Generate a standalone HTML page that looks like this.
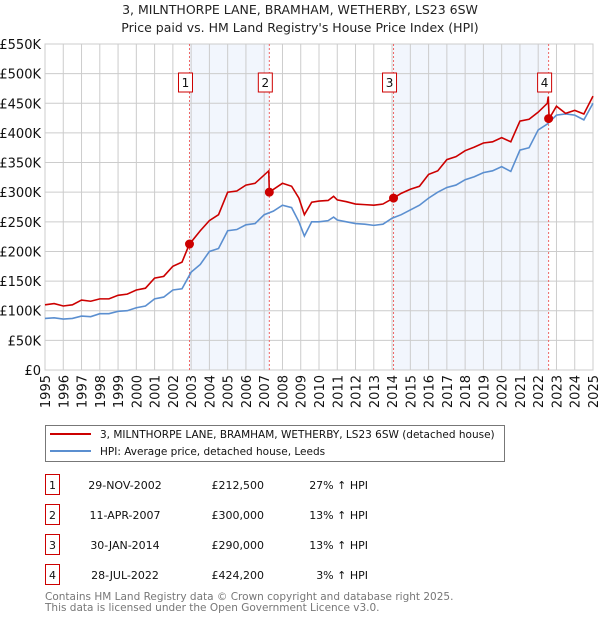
<!DOCTYPE html>
<html><head><meta charset="utf-8"><style>
body{margin:0;background:#fff;font-family:"Liberation Sans","DejaVu Sans",sans-serif;}
svg text{font-family:"DejaVu Sans","Liberation Sans",sans-serif;}
</style></head><body>
<svg id="c" width="600" height="620" xmlns="http://www.w3.org/2000/svg">
<text x="300" y="14" text-anchor="middle" font-size="12.5" fill="#222">3, MILNTHORPE LANE, BRAMHAM, WETHERBY, LS23 6SW</text>
<text x="300" y="32" text-anchor="middle" font-size="12.5" fill="#222">Price paid vs. HM Land Registry's House Price Index (HPI)</text>
<g id="plot"></g>
<g>
<rect x="45.5" y="425.5" width="459" height="36" fill="#fff" stroke="#777"/>
<line x1="50" y1="434" x2="91" y2="434" stroke="#cc0000" stroke-width="2"/>
<text x="100" y="438" font-size="10.5" fill="#111">3, MILNTHORPE LANE, BRAMHAM, WETHERBY, LS23 6SW (detached house)</text>
<line x1="50" y1="451" x2="91" y2="451" stroke="#5b8fd0" stroke-width="2"/>
<text x="100" y="455" font-size="10.5" fill="#111">HPI: Average price, detached house, Leeds</text>
</g>
<g id="table"></g>
<text x="45" y="600" font-size="10.5" fill="#777">Contains HM Land Registry data © Crown copyright and database right 2025.</text>
<text x="45" y="611" font-size="10.5" fill="#777">This data is licensed under the Open Government Licence v3.0.</text>
</svg>
<script>
const hpiYears=[1995,1995.5,1996,1996.5,1997,1997.5,1998,1998.5,1999,1999.5,2000,2000.5,2001,2001.5,2002,2002.5,2003,2003.5,2004,2004.5,2005,2005.5,2006,2006.5,2007,2007.5,2008,2008.5,2008.9,2009.2,2009.6,2010,2010.5,2010.8,2011,2011.5,2012,2012.5,2013,2013.5,2014,2014.5,2015,2015.5,2016,2016.5,2017,2017.5,2018,2018.5,2019,2019.5,2020,2020.5,2021,2021.5,2022,2022.5,2023,2023.5,2024,2024.5,2025];
const hpiValues=[87,88,86,87,91,90,95,95,99,100,105,108,120,123,135,137,165,178,200,205,235,237,245,247,262,268,278,274,250,226,250,250,252,258,253,250,247,246,244,246,256,262,270,278,290,300,308,312,321,326,333,336,343,335,371,375,405,415,430,432,430,422,450];
const redYears=[1995,1995.5,1996,1996.5,1997,1997.5,1998,1998.5,1999,1999.5,2000,2000.5,2001,2001.5,2002,2002.5,2002.9,2003.5,2004,2004.5,2005,2005.5,2006,2006.5,2007.25,2007.28,2008,2008.5,2008.9,2009.2,2009.6,2010,2010.5,2010.8,2011,2011.5,2012,2012.5,2013,2013.5,2014.08,2014.5,2015,2015.5,2016,2016.5,2017,2017.5,2018,2018.5,2019,2019.5,2020,2020.5,2021,2021.5,2022,2022.5,2022.55,2022.6,2023,2023.5,2024,2024.5,2025];
const redValues=[110,112,108,110,118,116,120,120,126,128,135,138,155,158,175,182,212,235,252,262,300,302,312,315,336,300,315,310,290,262,283,285,286,293,287,284,280,279,278,280,290,298,305,310,330,336,355,360,370,376,383,385,392,385,420,423,435,450,461,424,445,433,438,432,462];
const saleYears=[2002.91,2007.28,2014.08,2022.57];
const salePrices=[212.5,300,290,424.2];
const saleDates=["29-NOV-2002","11-APR-2007","30-JAN-2014","28-JUL-2022"];
const salePriceLabels=["£212,500","£300,000","£290,000","£424,200"];
const saleHpiLabels=["27% ↑ HPI","13% ↑ HPI","13% ↑ HPI","3% ↑ HPI"];
const yTicks=[0,50,100,150,200,250,300,350,400,450,500,550];
const yTickLabels=["£0","£50K","£100K","£150K","£200K","£250K","£300K","£350K","£400K","£450K","£500K","£550K"];
const xTicks=[1995,1996,1997,1998,1999,2000,2001,2002,2003,2004,2005,2006,2007,2008,2009,2010,2011,2012,2013,2014,2015,2016,2017,2018,2019,2020,2021,2022,2023,2024,2025];

const X0=45,X1=593,Y0=370,Y1=44;
const x=v=>X0+(v-1995)/30*(X1-X0);
const y=v=>Y0-v/550*(Y0-Y1);
const NS="http://www.w3.org/2000/svg";
const plot=document.getElementById('plot');
function mk(tag,attrs,parent){const e=document.createElementNS(NS,tag);for(const k in attrs)e.setAttribute(k,attrs[k]);(parent||plot).appendChild(e);return e;}

for(let i=0;i<saleYears.length;i+=2){
 const r=mk('rect',{x:x(saleYears[i]),y:Y1,width:x(saleYears[i+1])-x(saleYears[i]),height:Y0-Y1,fill:'#f2f6fd'});
 
 
}
yTicks.forEach((t,i)=>{
 const l=mk('line',{x1:X0,x2:X1,y1:y(t),y2:y(t),stroke:'#ccc','stroke-width':1});
 
 
 const tx=mk('text',{x:X0-4,y:y(t)+5,'text-anchor':'end','font-size':13,fill:'#111'});
 tx.textContent=yTickLabels[i];
 
 
});
xTicks.forEach(t=>{
 const l=mk('line',{x1:x(t),x2:x(t),y1:Y1,y2:Y0,stroke:'#ccc','stroke-width':1});
 
 
 const tx=mk('text',{x:0,y:0,'text-anchor':'end','font-size':13,fill:'#111',transform:`translate(${x(t)+5},${Y0+5}) rotate(-90)`});
 tx.textContent=t;
 
 
});
mk('rect',{x:X0,y:Y1,width:X1-X0,height:Y0-Y1,fill:'none',stroke:'#ccc'});
saleYears.forEach((s,i)=>{
 const l=mk('line',{x1:x(s),x2:x(s),y1:Y1,y2:Y0,stroke:'#e66','stroke-width':1,'stroke-dasharray':'2,2'});
 
 
 const b=mk('rect',{x:x(s)-11,y:73,width:14,height:19,fill:'#fff',stroke:'#cc0000'});
 
 
 const t=mk('text',{x:x(s)-4,y:87,'text-anchor':'middle','font-size':12,fill:'#111'});
 t.textContent=i+1;
 
 
});
const hp=mk('polyline',{points:hpiYears.map((v,i)=>x(v)+','+y(hpiValues[i])).join(' '),fill:'none',stroke:'#5b8fd0','stroke-width':1.6});


const rp=mk('polyline',{points:redYears.map((v,i)=>x(v)+','+y(redValues[i])).join(' '),fill:'none',stroke:'#cc0000','stroke-width':1.6});


saleYears.forEach((s,i)=>{
 const c=mk('circle',{cx:x(s),cy:y(salePrices[i]),r:4.5,fill:'#cc0000'});
 
 
});
const tb=document.getElementById('table');
saleDates.forEach((d,i)=>{
 const yy=482+i*30;
 const b=mk('rect',{x:45.5,y:yy-7.5,width:14,height:20,fill:'#fff',stroke:'#cc0000'},tb);
 
 
 const n=mk('text',{x:52.5,y:yy+7,'text-anchor':'middle','font-size':11,fill:'#111'},tb);n.textContent=i+1;
 
 
 const dt=mk('text',{x:125,y:yy+7,'text-anchor':'middle','font-size':11,fill:'#111'},tb);dt.textContent=d;
 
 
 const p=mk('text',{x:264,y:yy+7,'text-anchor':'end','font-size':11,fill:'#111'},tb);p.textContent=salePriceLabels[i];
 
 
 const h=mk('text',{x:368,y:yy+7,'text-anchor':'end','font-size':11,fill:'#111'},tb);h.textContent=saleHpiLabels[i];
 
 
});
</script>
</body></html>
